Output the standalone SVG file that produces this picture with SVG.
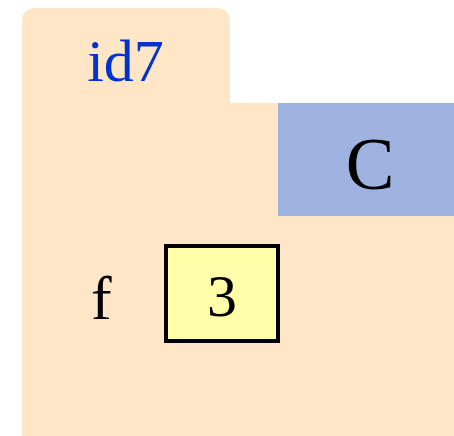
<svg xmlns="http://www.w3.org/2000/svg" width="454" height="436" viewBox="0 0 454 436">
<style>
.obj{fill:#FFE6C7}
.t{font-family:"Liberation Serif","Times New Roman",serif}
</style>
<rect width="454" height="436" fill="#ffffff"/>
<g id="object">
<path class="obj" d="M22,436 L22,22 Q22,8 36,8 L216,8 Q230,8 230,22 L230,103 L454,103 L454,436 Z"/>
<text class="t" x="125.5" y="81" font-size="60" fill="#0033CC" text-anchor="middle">id7</text>
</g>
<g id="class">
<rect x="278" y="103" width="176" height="113" fill="#9FB3E0"/>
<text class="t" x="370" y="189" font-size="73" fill="#000" text-anchor="middle">C</text>
</g>
<g id="field">
<text class="t" x="91" y="319" font-size="62" fill="#000">f</text>
<rect x="166" y="246" width="112" height="95" fill="#FFFFAA" stroke="#000" stroke-width="4"/>
<text class="t" x="222" y="316" font-size="60" fill="#000" text-anchor="middle">3</text>
</g>
<g id="connectors"/>
</svg>
